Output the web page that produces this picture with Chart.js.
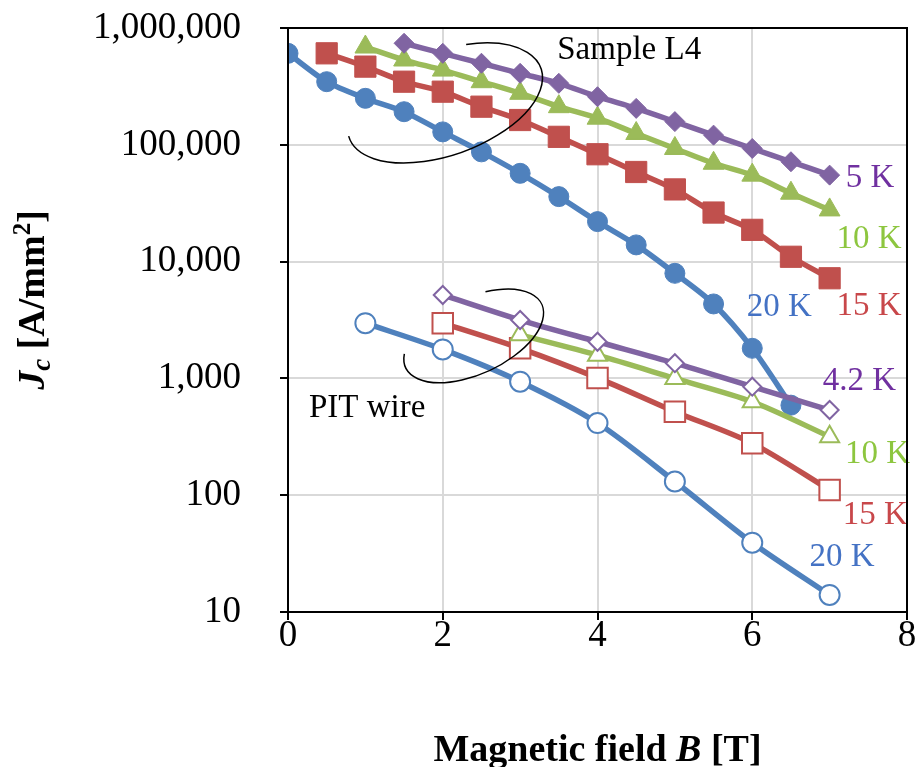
<!DOCTYPE html>
<html>
<head>
<meta charset="utf-8">
<script src="https://cdn.jsdelivr.net/npm/chart.js@4.4.1/dist/chart.umd.min.js"></script>
<style>
  html, body { margin: 0; padding: 0; background: #fff; }
  #wrap { width: 917px; height: 767px; position: relative; }
</style>
</head>
<body>
<div id="wrap"><canvas id="jc"></canvas></div>
<script>
// Critical current density Jc (A/mm^2) versus magnetic field B (T)

// Sample L4 (filled markers)
const fieldL4_5K  = [1.5, 2, 2.5, 3, 3.5, 4, 4.5, 5, 5.5, 6, 6.5, 7];
const jcL4_5K     = [740000, 607000, 499000, 409000, 336000, 258000, 205000, 158000, 121000, 93000, 71600, 55000];
const fieldL4_10K = [1, 1.5, 2, 2.5, 3, 3.5, 4, 4.5, 5, 5.5, 6, 6.5, 7];
const jcL4_10K    = [687000, 532000, 436000, 347000, 276000, 212000, 169000, 125000, 93000, 69500, 55000, 38500, 27700];
const fieldL4_15K = [0.5, 1, 1.5, 2, 2.5, 3, 3.5, 4, 4.5, 5, 5.5, 6, 6.5, 7];
const jcL4_15K    = [607000, 467000, 347000, 285000, 212000, 163000, 117000, 83000, 58500, 41500, 26300, 18700, 11000, 7200];
const fieldL4_20K = [0, 0.5, 1, 1.5, 2, 2.5, 3, 3.5, 4, 4.5, 5, 5.5, 6, 6.5];
const jcL4_20K    = [607000, 347000, 250000, 192000, 129000, 87000, 57000, 36000, 22000, 13900, 7940, 4340, 1810, 590];

// PIT wire (open markers)
const fieldPIT_42K = [2, 3, 4, 5, 6, 7];
const jcPIT_42K    = [5180, 3160, 2060, 1350, 849, 536];
const fieldPIT_10K = [3, 4, 5, 6, 7];
const jcPIT_10K    = [2360, 1580, 1000, 631, 317];
const fieldPIT_15K = [2, 3, 4, 5, 6, 7];
const jcPIT_15K    = [2970, 1810, 1010, 519, 278, 111];
const fieldPIT_20K = [1, 2, 3, 4, 5, 6, 7];
const jcPIT_20K    = [2970, 1770, 937, 415, 131, 39.2, 14.0];

// Axis ticks
const xTicks = [0, 2, 4, 6, 8];
const yTicks = [10, 100, 1000, 10000, 100000, 1000000];

// Curve labels: [text, B, Jc, colour]
const curveLabels = [
  ['5 K',   7.21, 52000, '#7030A0'],
  ['10 K',  7.09, 15600, '#8DC63F'],
  ['15 K',  7.09, 4170,  '#C8474A'],
  ['20 K',  5.93, 4090,  '#4472C4'],
  ['4.2 K', 6.91, 950,   '#7030A0'],
  ['10 K',  7.20, 225,   '#8DC63F'],
  ['15 K',  7.17, 67.6,  '#C8474A'],
  ['20 K',  6.74, 29.6,  '#4472C4']
];
const groupLabels = [
  ['Sample L4', 3.48, 649000],
  ['PIT wire',  0.27, 558]
];

const BLUE = '#4F81BD', RED = '#C0504D', GREEN = '#9BBB59', PURPLE = '#8064A2';
const SERIF = '"Liberation Serif", "Times New Roman", serif';

function pts(xs, ys) { return xs.map((x, i) => ({ x: x, y: ys[i] })); }

function series(label, xs, ys, color, style, radius, open) {
  return {
    label: label,
    data: pts(xs, ys),
    borderColor: color,
    borderWidth: 5.5,
    tension: 0.3,
    pointStyle: style,
    pointRadius: radius,
    pointHoverRadius: radius,
    pointBackgroundColor: open ? '#ffffff' : color,
    pointBorderColor: color,
    pointBorderWidth: open ? 2 : 1,
    fill: false
  };
}

// Datasets listed first are drawn on top
const datasets = [
  series('PIT 4.2 K', fieldPIT_42K, jcPIT_42K, PURPLE, 'rectRot', 9, true),
  series('PIT 10 K',  fieldPIT_10K, jcPIT_10K, GREEN, 'triangle', 11, true),
  series('PIT 15 K',  fieldPIT_15K, jcPIT_15K, RED, 'rect', 14.5, true),
  series('PIT 20 K',  fieldPIT_20K, jcPIT_20K, BLUE, 'circle', 10, true),
  series('L4 5 K',  fieldL4_5K,  jcL4_5K,  PURPLE, 'rectRot', 10, false),
  series('L4 10 K', fieldL4_10K, jcL4_10K, GREEN, 'triangle', 12, false),
  series('L4 15 K', fieldL4_15K, jcL4_15K, RED, 'rect', 15, false),
  series('L4 20 K', fieldL4_20K, jcL4_20K, BLUE, 'circle', 10, false)
];

// Draws a sequence of differently styled text runs centred on (cx, cy)
function drawRuns(ctx, runs, cx, cy) {
  let total = 0;
  runs.forEach(r => { ctx.font = r.font; r.w = ctx.measureText(r.t).width; total += r.w; });
  let x = cx - total / 2;
  ctx.textAlign = 'left';
  ctx.textBaseline = 'alphabetic';
  runs.forEach(r => {
    ctx.font = r.font;
    ctx.fillText(r.t, x, cy + (r.dy || 0));
    x += r.w;
  });
}

const decorations = {
  id: 'decorations',
  afterDatasetsDraw(chart) {
    const ctx = chart.ctx, xs = chart.scales.x, ys = chart.scales.y, a = chart.chartArea;
    ctx.save();

    // grouping ellipses
    ctx.strokeStyle = '#000';
    ctx.lineWidth = 1.5;
    const deg = Math.PI / 180;
    ctx.beginPath();
    ctx.ellipse(xs.getPixelForValue(2.03), ys.getPixelForValue(228000), 102, 52, -20 * deg, -67 * deg, 182 * deg);
    ctx.stroke();
    ctx.beginPath();
    ctx.ellipse(xs.getPixelForValue(2.40), ys.getPixelForValue(2310), 75, 38, -25 * deg, -67 * deg, 200 * deg);
    ctx.stroke();

    // curve and group labels
    ctx.textAlign = 'left';
    ctx.textBaseline = 'middle';
    ctx.font = '33px ' + SERIF;
    curveLabels.forEach(([t, b, j, c]) => {
      ctx.fillStyle = c;
      ctx.fillText(t, xs.getPixelForValue(b), ys.getPixelForValue(j));
    });
    ctx.fillStyle = '#000';
    groupLabels.forEach(([t, b, j]) => {
      ctx.fillText(t, xs.getPixelForValue(b), ys.getPixelForValue(j));
    });

    // plot frame
    ctx.lineWidth = 2;
    ctx.strokeStyle = '#000';
    ctx.strokeRect(a.left, a.top, a.right - a.left, a.bottom - a.top);
    ctx.restore();
  },
  afterDraw(chart) {
    const ctx = chart.ctx, a = chart.chartArea;
    ctx.save();
    ctx.fillStyle = '#000';
    // x-axis title
    drawRuns(ctx, [
      { t: 'Magnetic field ', font: 'bold 38px ' + SERIF },
      { t: 'B', font: 'italic bold 38px ' + SERIF },
      { t: ' [T]', font: 'bold 38px ' + SERIF }
    ], (a.left + a.right) / 2, 761);
    // y-axis title
    ctx.translate(44, 300);
    ctx.rotate(-Math.PI / 2);
    drawRuns(ctx, [
      { t: 'J', font: 'italic bold 38px ' + SERIF },
      { t: 'c', font: 'italic bold 27px ' + SERIF, dy: 6 },
      { t: ' [A/mm', font: 'bold 38px ' + SERIF },
      { t: '2', font: 'bold 25px ' + SERIF, dy: -14 },
      { t: ']', font: 'bold 38px ' + SERIF }
    ], 0, 0);
    ctx.restore();
  }
};

new Chart(document.getElementById('jc'), {
  type: 'line',
  data: { datasets: datasets },
  options: {
    responsive: true,
    maintainAspectRatio: false,
    animation: false,
    devicePixelRatio: 1,
    layout: { autoPadding: false, padding: { left: 0, right: 10, top: 28, bottom: 0 } },
    plugins: { legend: { display: false }, tooltip: { enabled: false } },
    scales: {
      x: {
        type: 'linear',
        min: 0, max: 8,
        afterBuildTicks: s => { s.ticks = xTicks.map(v => ({ value: v })); },
        afterFit: s => { s.height = 155; s.paddingLeft = 0; s.paddingRight = 0; },
        grid: { color: '#d9d9d9', lineWidth: 2, tickColor: '#000', tickLength: 8, tickWidth: 2 },
        border: { display: false },
        ticks: { color: '#000', font: { family: SERIF, size: 37, lineHeight: 1 }, padding: -2, maxRotation: 0 }
      },
      y: {
        type: 'logarithmic',
        min: 10, max: 1000000,
        afterBuildTicks: s => { s.ticks = yTicks.map(v => ({ value: v })); },
        afterFit: s => { s.width = 288; s.paddingTop = 0; s.paddingBottom = 0; },
        grid: { color: '#d9d9d9', lineWidth: 2, tickColor: '#000', tickLength: 8, tickWidth: 2 },
        border: { display: false },
        ticks: {
          color: '#000',
          font: { family: SERIF, size: 37 },
          padding: 39,
          callback: v => Number(v).toLocaleString('en-US')
        }
      }
    }
  },
  plugins: [decorations]
});
</script>
</body>
</html>
